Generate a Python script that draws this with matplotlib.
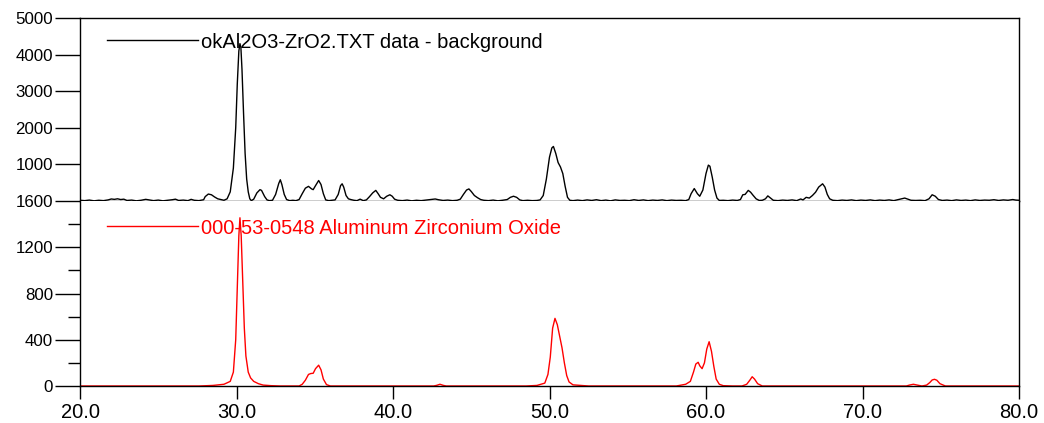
"""XRD pattern: measured data (background removed) vs. reference card 000-53-0548."""

import matplotlib
matplotlib.use("Agg")
import matplotlib.pyplot as plt
import numpy as np
from matplotlib.ticker import MultipleLocator

plt.rcParams["font.family"] = ["Liberation Sans", "DejaVu Sans"]

meas_2theta = [
    20.0, 20.3, 20.6, 20.9, 21.2, 21.5, 21.8, 22.0, 22.2, 22.4, 22.6, 22.8, 23.0, 23.3, 23.6, 23.9,
    24.2, 24.4, 24.7, 25.0, 25.3, 25.6, 25.9, 26.1, 26.3, 26.6, 26.9, 27.1, 27.3, 27.6, 27.9, 28.0,
    28.2, 28.4, 28.6, 28.8, 29.0, 29.2, 29.4, 29.6, 29.8, 29.95, 30.05, 30.15, 30.22, 30.28, 30.35,
    30.45, 30.55, 30.65, 30.75, 30.85, 30.95, 31.1, 31.3, 31.5, 31.6, 31.8, 31.95, 32.1, 32.3, 32.5,
    32.7, 32.8, 32.9, 33.05, 33.2, 33.4, 33.6, 33.8, 34.0, 34.2, 34.4, 34.6, 34.8, 34.9, 35.05, 35.25,
    35.4, 35.55, 35.7, 35.9, 36.1, 36.3, 36.5, 36.65, 36.75, 36.85, 37.0, 37.15, 37.3, 37.5, 37.7,
    37.9, 38.1, 38.3, 38.5, 38.7, 38.9, 39.05, 39.2, 39.4, 39.6, 39.8, 39.95, 40.1, 40.3, 40.6, 40.9,
    41.2, 41.5, 41.8, 42.1, 42.4, 42.7, 42.9, 43.2, 43.5, 43.8, 44.1, 44.3, 44.5, 44.7, 44.85, 45.0,
    45.2, 45.4, 45.6, 45.8, 46.1, 46.4, 46.7, 47.0, 47.3, 47.5, 47.7, 47.9, 48.1, 48.3, 48.6, 48.9,
    49.2, 49.4, 49.6, 49.8, 50.0, 50.15, 50.25, 50.4, 50.55, 50.7, 50.85, 51.0, 51.15, 51.3, 51.5,
    51.8, 52.1, 52.4, 52.7, 53.0, 53.3, 53.6, 53.9, 54.2, 54.5, 54.8, 55.1, 55.4, 55.7, 56.0, 56.3,
    56.6, 56.9, 57.2, 57.5, 57.8, 58.1, 58.4, 58.7, 58.9, 59.05, 59.25, 59.45, 59.6, 59.8, 60.0,
    60.15, 60.25, 60.4, 60.55, 60.7, 60.85, 61.1, 61.4, 61.7, 62.0, 62.2, 62.35, 62.5, 62.7, 62.85,
    63.0, 63.2, 63.4, 63.6, 63.8, 63.95, 64.1, 64.3, 64.6, 64.9, 65.2, 65.5, 65.8, 66.05, 66.2, 66.4,
    66.6, 66.8, 67.0, 67.2, 67.45, 67.6, 67.75, 67.9, 68.1, 68.4, 68.7, 69.0, 69.3, 69.6, 69.9, 70.2,
    70.5, 70.8, 71.1, 71.4, 71.7, 72.0, 72.3, 72.5, 72.7, 72.9, 73.1, 73.4, 73.7, 74.0, 74.25, 74.45,
    74.65, 74.85, 75.1, 75.4, 75.7, 76.0, 76.3, 76.6, 76.9, 77.2, 77.5, 77.8, 78.1, 78.4, 78.7, 79.0,
    79.3, 79.6, 79.8, 80.0,
]
meas_counts = [
    20, 10, 25, 5, 20, 10, 30, 55, 45, 60, 40, 50, 15, 25, 5, 20,
    45, 30, 10, 25, 5, 20, 35, 50, 15, 25, 10, 45, 20, 10, 35, 120,
    190, 170, 110, 60, 40, 20, 60, 250, 900, 2000, 3200, 4100, 4300, 4200, 3600,
    2400, 1300, 600, 250, 60, 10, 50, 220, 310, 290, 120, 30, 10, 20, 180,
    480, 580, 450, 180, 40, 10, 20, 10, 40, 200, 350, 400, 330, 310, 420, 560,
    450, 200, 30, 10, 20, 30, 180, 420, 470, 380, 150, 60, 40, 20, 10,
    50, 10, 30, 120, 220, 290, 200, 100, 60, 130, 170, 130, 50, 20, 10, 25,
    5, 20, 10, 25, 40, 55, 35, 15, 25, 10, 20, 50, 180, 300, 330, 260,
    150, 90, 40, 20, 10, 25, 5, 20, 40, 100, 130, 100, 30, 10, 20, 10,
    15, 30, 150, 600, 1200, 1450, 1490, 1300, 1050, 930, 750, 400, 100, 20, 10,
    25, 10, 30, 15, 35, 10, 25, 5, 30, 15, 20, 10, 35, 15, 30, 10,
    25, 15, 30, 10, 25, 15, 20, 10, 40, 200, 340, 200, 130, 300, 750,
    980, 950, 650, 300, 80, 15, 20, 10, 25, 15, 40, 170, 180, 290, 240,
    160, 60, 15, 20, 60, 140, 90, 20, 10, 25, 15, 30, 10, 55, 30, 100,
    80, 150, 240, 380, 470, 380, 180, 60, 20, 10, 25, 15, 30, 10, 25, 15,
    30, 10, 25, 15, 30, 10, 40, 60, 80, 50, 20, 15, 20, 10, 60, 170,
    130, 40, 15, 25, 10, 30, 15, 25, 10, 30, 15, 25, 20, 35, 15, 30,
    20, 40, 25, 20,
]

# reference card pattern (2theta, intensity)
ref_2theta = [
    20.0, 27.6, 28.5, 29.2, 29.6, 29.8, 29.95, 30.05, 30.15, 30.22, 30.3, 30.4, 30.5, 30.6, 30.75,
    30.9, 31.1, 31.4, 31.7, 32.2, 32.8, 34.0, 34.2, 34.4, 34.6, 34.75, 34.9, 35.05, 35.25, 35.4,
    35.55, 35.75, 36.0, 42.6, 42.8, 43.0, 43.2, 43.4, 48.5, 49.2, 49.7, 49.9, 50.05, 50.2, 50.35,
    50.5, 50.65, 50.8, 50.95, 51.1, 51.25, 51.5, 52.5, 58.1, 58.7, 59.0, 59.2, 59.35, 59.5, 59.6,
    59.75, 59.9, 60.05, 60.2, 60.35, 60.5, 60.65, 60.85, 61.1, 61.7, 62.3, 62.6, 62.8, 62.95, 63.1,
    63.3, 63.6, 72.8, 73.0, 73.25, 73.5, 73.8, 74.1, 74.3, 74.45, 74.6, 74.75, 74.95, 75.3, 80.0,
]
ref_counts = [
    0, 0, 5, 15, 40, 120, 400, 850, 1300, 1455, 1300, 900, 500, 260, 120,
    70, 40, 20, 8, 3, 0, 0, 15, 50, 100, 108, 110, 150, 180, 140,
    60, 12, 0, 0, 6, 15, 6, 0, 0, 5, 25, 100, 250, 500, 585,
    530, 430, 330, 200, 90, 35, 10, 0, 0, 15, 40, 120, 190, 205, 175,
    150, 200, 320, 383, 300, 170, 60, 15, 3, 0, 0, 15, 50, 80, 60,
    20, 0, 0, 8, 15, 8, 0, 8, 30, 52, 58, 50, 20, 0, 0,
]

top_label = "okAl2O3-ZrO2.TXT data - background"
ref_label = "000-53-0548 Aluminum Zirconium Oxide"

fig = plt.figure(figsize=(10.44, 4.23), dpi=100)
ax_top = fig.add_axes([80 / 1044, 1 - 201 / 423, 939 / 1044, 183 / 423])
ax_bot = fig.add_axes([80 / 1044, 1 - 386 / 423, 939 / 1044, 185 / 423])

ax_top.plot(meas_2theta, meas_counts, color="black", lw=1.0, label=top_label)
ax_bot.plot(ref_2theta, ref_counts, color="red", lw=1.0, label=ref_label, zorder=1)

for ax in (ax_top, ax_bot):
    ax.set_xlim(20, 80)
    for sp in ax.spines.values():
        sp.set_linewidth(1.0)
        sp.set_zorder(3)
    ax.tick_params(axis="y", which="major", length=18, width=1.0, pad=1.5, labelsize=12.2)
    ax.tick_params(axis="y", which="minor", length=8.5, width=1.0)

ax_top.set_ylim(0, 5000)
ax_top.set_yticks([1000, 2000, 3000, 4000, 5000])
ax_top.set_xticks([])

ax_bot.set_ylim(0, 1600)
ax_bot.set_yticks([0, 400, 800, 1200, 1600])
ax_bot.yaxis.set_minor_locator(MultipleLocator(200))
ax_bot.spines["top"].set_visible(False)
ax_bot.set_xticks(np.arange(20, 81, 10))
ax_bot.set_xticklabels([f"{v:.1f}" for v in np.arange(20, 81, 10)])
ax_bot.tick_params(axis="x", length=9.5, width=1.0, pad=3, labelsize=14.5)

ax_top.legend(loc="center left", bbox_to_anchor=(27 / 939, 159 / 183), frameon=False,
              borderpad=0, borderaxespad=0, handlelength=4.5, handletextpad=0.15,
              fontsize=14.5, labelcolor="black")
ax_bot.legend(loc="center left", bbox_to_anchor=(27 / 939, 158 / 185), frameon=False,
              borderpad=0, borderaxespad=0, handlelength=4.5, handletextpad=0.15,
              fontsize=14.5, labelcolor="red")

fig.savefig("out.png", dpi=100)
